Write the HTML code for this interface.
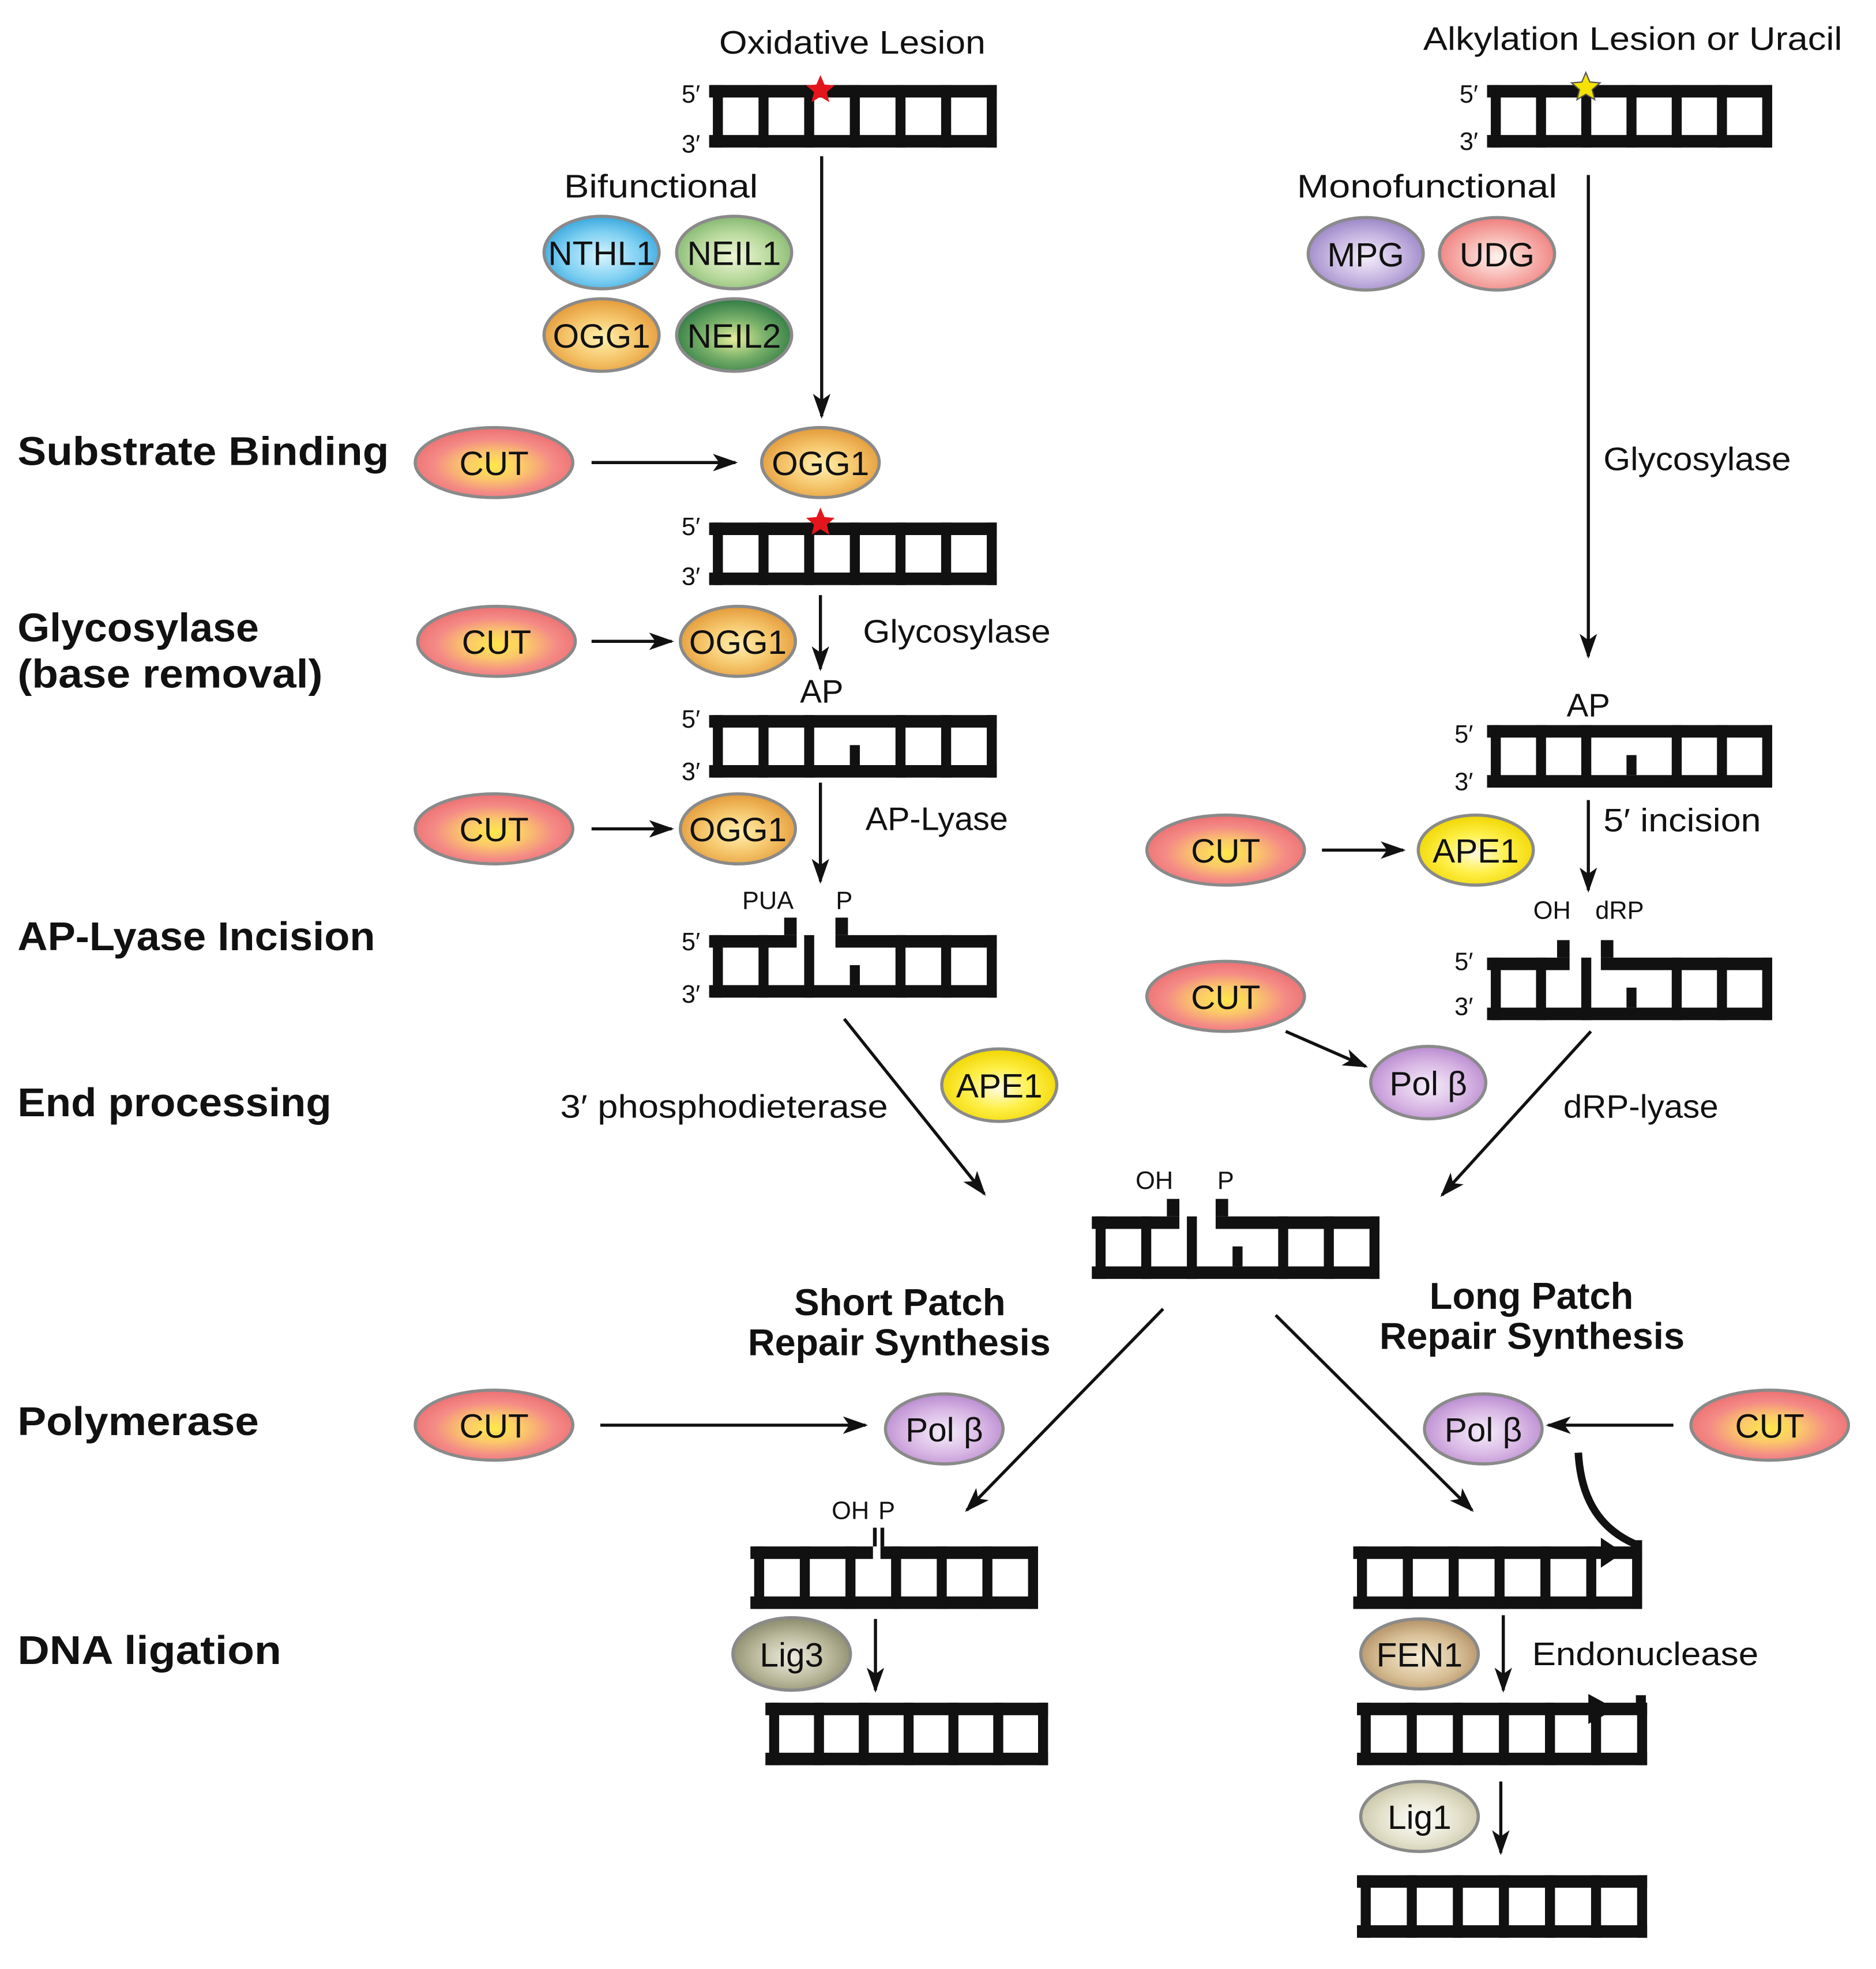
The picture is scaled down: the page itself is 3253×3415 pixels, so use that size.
<!DOCTYPE html>
<html><head><meta charset="utf-8">
<style>
html,body{margin:0;padding:0;background:#fff;}
svg{display:block;}
text{font-family:"Liberation Sans",sans-serif;fill:#111;}
.t{font-size:26px;}
.b{font-size:32px;font-weight:bold;}
.s{font-size:20px;}
.e{font-size:27px;text-anchor:middle;}
</style></head>
<body>
<svg id="sv" width="3253" height="3415" viewBox="0 0 1500 1575" preserveAspectRatio="none" xmlns="http://www.w3.org/2000/svg">
<defs>
<marker id="ah" viewBox="0 0 20 14" refX="18" refY="7" markerWidth="20" markerHeight="14" markerUnits="userSpaceOnUse" orient="auto"><path d="M0,0 L20,7 L0,14 L5,7 z" fill="#111"/></marker>
</defs>
<g id="shapes"></g>
<g id="arrows" stroke="#111" stroke-width="2.5" fill="none">
<line x1="657" y1="125" x2="657" y2="333" marker-end="url(#ah)"/>
<line x1="1270" y1="140" x2="1270" y2="525" marker-end="url(#ah)"/>
<line x1="473" y1="370" x2="588" y2="370" marker-end="url(#ah)"/>
<line x1="473" y1="513" x2="537" y2="513" marker-end="url(#ah)"/>
<line x1="656" y1="476" x2="656" y2="535" marker-end="url(#ah)"/>
<line x1="473" y1="663" x2="537" y2="663" marker-end="url(#ah)"/>
<line x1="656" y1="626" x2="656" y2="705" marker-end="url(#ah)"/>
<line x1="675" y1="815" x2="787" y2="955" marker-end="url(#ah)"/>
<line x1="1270" y1="640" x2="1270" y2="712" marker-end="url(#ah)"/>
<line x1="1057" y1="680" x2="1122" y2="680" marker-end="url(#ah)"/>
<line x1="1028" y1="825" x2="1092" y2="853" marker-end="url(#ah)"/>
<line x1="1272" y1="825" x2="1153" y2="956" marker-end="url(#ah)"/>
<line x1="930" y1="1047" x2="773" y2="1208" marker-end="url(#ah)"/>
<line x1="1020" y1="1052" x2="1177" y2="1208" marker-end="url(#ah)"/>
<line x1="480" y1="1140" x2="692" y2="1140" marker-end="url(#ah)"/>
<line x1="1338" y1="1140" x2="1238" y2="1140" marker-end="url(#ah)"/>
<line x1="700" y1="1295" x2="700" y2="1352" marker-end="url(#ah)"/>
<line x1="1202" y1="1292" x2="1202" y2="1352" marker-end="url(#ah)"/>
<line x1="1200" y1="1425" x2="1200" y2="1482" marker-end="url(#ah)"/>
<path d="M1262,1162 C1264,1200 1280,1225 1312,1237" stroke-width="6"/>
</g>
<g id="labels">
<text class="t" x="575" y="43" textLength="213" lengthAdjust="spacingAndGlyphs">Oxidative Lesion</text>
<text class="t" x="1138" y="40" textLength="335" lengthAdjust="spacingAndGlyphs">Alkylation Lesion or Uracil</text>
<text class="t" x="451" y="158" textLength="155" lengthAdjust="spacingAndGlyphs">Bifunctional</text>
<text class="t" x="1037" y="158" textLength="208" lengthAdjust="spacingAndGlyphs">Monofunctional</text>
<text class="t" x="1282" y="376" textLength="150" lengthAdjust="spacingAndGlyphs">Glycosylase</text>
<text class="t" x="690" y="514" textLength="150" lengthAdjust="spacingAndGlyphs">Glycosylase</text>
<text class="t" x="692" y="664" textLength="114" lengthAdjust="spacingAndGlyphs">AP-Lyase</text>
<text class="t" x="1282" y="665" textLength="126" lengthAdjust="spacingAndGlyphs">5′ incision</text>
<text class="t" x="448" y="894" textLength="262" lengthAdjust="spacingAndGlyphs">3′ phosphodieterase</text>
<text class="t" x="1250" y="894" textLength="124" lengthAdjust="spacingAndGlyphs">dRP-lyase</text>
<text class="t" x="1225" y="1332" textLength="181" lengthAdjust="spacingAndGlyphs">Endonuclease</text>
<text class="t" x="657" y="562" text-anchor="middle">AP</text>
<text class="t" x="1270" y="573" text-anchor="middle">AP</text>
<text class="b" x="14" y="372" textLength="297" lengthAdjust="spacingAndGlyphs">Substrate Binding</text>
<text class="b" x="14" y="513" textLength="193" lengthAdjust="spacingAndGlyphs">Glycosylase</text>
<text class="b" x="14" y="550" textLength="244" lengthAdjust="spacingAndGlyphs">(base removal)</text>
<text class="b" x="14" y="760" textLength="286" lengthAdjust="spacingAndGlyphs">AP-Lyase Incision</text>
<text class="b" x="14" y="893" textLength="251" lengthAdjust="spacingAndGlyphs">End processing</text>
<text class="b" x="14" y="1148" textLength="193" lengthAdjust="spacingAndGlyphs">Polymerase</text>
<text class="b" x="14" y="1331" textLength="211" lengthAdjust="spacingAndGlyphs">DNA ligation</text>
<text class="b" x="635" y="1052" style="font-size:30px" textLength="169" lengthAdjust="spacingAndGlyphs">Short Patch</text>
<text class="b" x="598" y="1084" style="font-size:30px" textLength="242" lengthAdjust="spacingAndGlyphs">Repair Synthesis</text>
<text class="b" x="1143" y="1047" style="font-size:30px" textLength="163" lengthAdjust="spacingAndGlyphs">Long Patch</text>
<text class="b" x="1103" y="1079" style="font-size:30px" textLength="244" lengthAdjust="spacingAndGlyphs">Repair Synthesis</text>
<text class="s" x="545" y="82">5′</text><text class="s" x="545" y="122">3′</text>
<text class="s" x="1167" y="82">5′</text><text class="s" x="1167" y="120">3′</text>
<text class="s" x="545" y="428">5′</text><text class="s" x="545" y="468">3′</text>
<text class="s" x="545" y="582">5′</text><text class="s" x="545" y="624">3′</text>
<text class="s" x="545" y="760">5′</text><text class="s" x="545" y="802">3′</text>
<text class="s" x="1163" y="594">5′</text><text class="s" x="1163" y="632">3′</text>
<text class="s" x="1163" y="776">5′</text><text class="s" x="1163" y="812">3′</text>
<text class="s" x="614" y="727" text-anchor="middle">PUA</text>
<text class="s" x="675" y="727" text-anchor="middle">P</text>
<text class="s" x="1241" y="735" text-anchor="middle">OH</text>
<text class="s" x="1295" y="735" text-anchor="middle">dRP</text>
<text class="s" x="923" y="951" text-anchor="middle">OH</text>
<text class="s" x="980" y="951" text-anchor="middle">P</text>
<text class="s" x="680" y="1215" text-anchor="middle">OH</text>
<text class="s" x="709" y="1215" text-anchor="middle">P</text>
</g>
<g id="etext">
<text class="e" x="481" y="212">NTHL1</text>
<text class="e" x="587" y="212">NEIL1</text>
<text class="e" x="481" y="278">OGG1</text>
<text class="e" x="587" y="278">NEIL2</text>
<text class="e" x="1092" y="213">MPG</text>
<text class="e" x="1197" y="213">UDG</text>
<text class="e" x="395" y="380">CUT</text>
<text class="e" x="656" y="380">OGG1</text>
<text class="e" x="397" y="523">CUT</text>
<text class="e" x="590" y="523">OGG1</text>
<text class="e" x="395" y="673">CUT</text>
<text class="e" x="590" y="673">OGG1</text>
<text class="e" x="980" y="690">CUT</text>
<text class="e" x="1180" y="690">APE1</text>
<text class="e" x="980" y="807">CUT</text>
<text class="e" x="1142" y="876">Pol β</text>
<text class="e" x="799" y="878">APE1</text>
<text class="e" x="395" y="1150">CUT</text>
<text class="e" x="755" y="1153">Pol β</text>
<text class="e" x="1186" y="1153">Pol β</text>
<text class="e" x="1415" y="1150">CUT</text>
<text class="e" x="633" y="1333">Lig3</text>
<text class="e" x="1135" y="1333">FEN1</text>
<text class="e" x="1135" y="1463">Lig1</text>
</g>
</svg>
<script>
var NS="http://www.w3.org/2000/svg";
var sh=document.getElementById("shapes"),defs=document.querySelector("defs");
function el(t,a,p){var e=document.createElementNS(NS,t);for(var k in a)e.setAttribute(k,a[k]);(p||sh).appendChild(e);return e;}
function R(x,y,w,h){el("rect",{x:x,y:y,width:w,height:h,fill:"#111"});}
function ladder(x0,x1,y,o){o=o||{};var H=50,T=10,n=7,rw=8;
 R(x0,y+H-T,x1-x0,T);
 if(o.gap){R(x0,y,o.gap[0]-x0,T);R(o.gap[1],y,x1-o.gap[1],T);
   if(o.up){R(o.gap[0]-T,y-14,T,14);R(o.gap[1],y-14,T,14);}}
 else R(x0,y,x1-x0,T);
 for(var i=0;i<n;i++){var rx=x0+3+i*(x1-x0-3-rw)/(n-1);
   if(o.shortIdx===i){R(rx,y+H-T-16,rw,16);}
   else R(rx,y,rw,H);}
}
ladder(567,797,68);ladder(1189,1417,68);ladder(567,797,418);
ladder(567,797,572,{shortIdx:3});ladder(1189,1417,580,{shortIdx:3});
ladder(567,797,748,{gap:[637,668],up:1,shortIdx:3});
ladder(1189,1417,766,{gap:[1255,1280],up:1,shortIdx:3});
ladder(873,1103,973,{gap:[943,972],up:1,shortIdx:3});
ladder(600,830,1237,{gap:[698,704]});
R(698,1222,3,15);R(704,1222,3,15);
ladder(612,838,1362);
ladder(1082,1313,1237);el("path",{d:"M1280,1230 L1298,1242 L1280,1254 z",fill:"#111"});R(1305,1232,8,12);
ladder(1085,1317,1362);el("path",{d:"M1270,1355 L1292,1367 L1270,1379 z",fill:"#111"});R(1308,1356,8,12);
ladder(1085,1317,1500);
function star(cx,cy,r,c){var p=[];for(var i=0;i<10;i++){var a=-Math.PI/2+i*Math.PI/5,rr=i%2?r*0.45:r;p.push((cx+rr*Math.cos(a)).toFixed(1)+","+(cy+rr*Math.sin(a)).toFixed(1));}el("polygon",{points:p.join(" "),fill:c,stroke:c==="#f5e200"?"#555":"none","stroke-width":1});}
star(656,72,12,"#e3161c");star(656,418,12,"#e3161c");star(1268,70,12,"#f5e200");
var gid=0;
function grad(stops){var id="g"+(gid++);var g=el("radialGradient",{id:id,cx:"50%",cy:"55%",r:"55%"},defs);
 stops.forEach(function(s){el("stop",{offset:s[0],"stop-color":s[1]},g);});return id;}
var C={
 cut:[[0,"#ffe84a"],[0.35,"#fbc86a"],[0.7,"#f48a86"],[1,"#ec6f72"]],
 blue:[[0,"#d8f4ff"],[0.6,"#7fd0f2"],[1,"#3aa7de"]],
 lgreen:[[0,"#f0f7d8"],[0.6,"#b6d89a"],[1,"#86b872"]],
 orange:[[0,"#fff0b0"],[0.55,"#f5c56a"],[1,"#e39a3a"]],
 dgreen:[[0,"#e5ee9a"],[0.5,"#79b06a"],[1,"#2f7a44"]],
 purple:[[0,"#f4eefa"],[0.6,"#c4b2e0"],[1,"#9b86c6"]],
 pink:[[0,"#fff2ee"],[0.55,"#f7b3ae"],[1,"#ef7e7e"]],
 yellow:[[0,"#fffbe0"],[0.5,"#fff04a"],[1,"#f0d600"]],
 polb:[[0,"#f5eefa"],[0.6,"#d8b6e4"],[1,"#b98bd0"]],
 olive:[[0,"#eeede0"],[0.6,"#b9b79a"],[1,"#8a8a6c"]],
 tan:[[0,"#f7ecd6"],[0.6,"#d8bf96"],[1,"#b39166"]],
 light:[[0,"#ffffff"],[0.6,"#e4e2cc"],[1,"#c8c5a8"]]};
var cache={};
function E(cx,cy,rx,ry,k){if(!cache[k])cache[k]=grad(C[k]);
 el("ellipse",{cx:cx,cy:cy,rx:rx,ry:ry,fill:"url(#"+cache[k]+")",stroke:"#8a8a8a","stroke-width":2.5});}
E(481,202,46,29,"blue");E(587,202,46,29,"lgreen");E(481,268,46,29,"orange");E(587,268,46,29,"dgreen");
E(1092,203,46,29,"purple");E(1197,203,46,29,"pink");
E(395,370,63,28,"cut");E(656,370,47,28,"orange");
E(397,513,63,28,"cut");E(590,513,46,28,"orange");
E(395,663,63,28,"cut");E(590,663,46,28,"orange");
E(980,680,63,28,"cut");E(1180,680,46,28,"yellow");
E(980,797,63,28,"cut");E(1142,866,46,29,"polb");E(799,868,46,29,"yellow");
E(395,1140,63,28,"cut");E(755,1143,47,28,"polb");E(1186,1143,47,28,"polb");E(1415,1140,63,28,"cut");
E(633,1323,47,29,"olive");E(1135,1323,47,28,"tan");E(1135,1453,47,28,"light");
</script>
</body></html>
